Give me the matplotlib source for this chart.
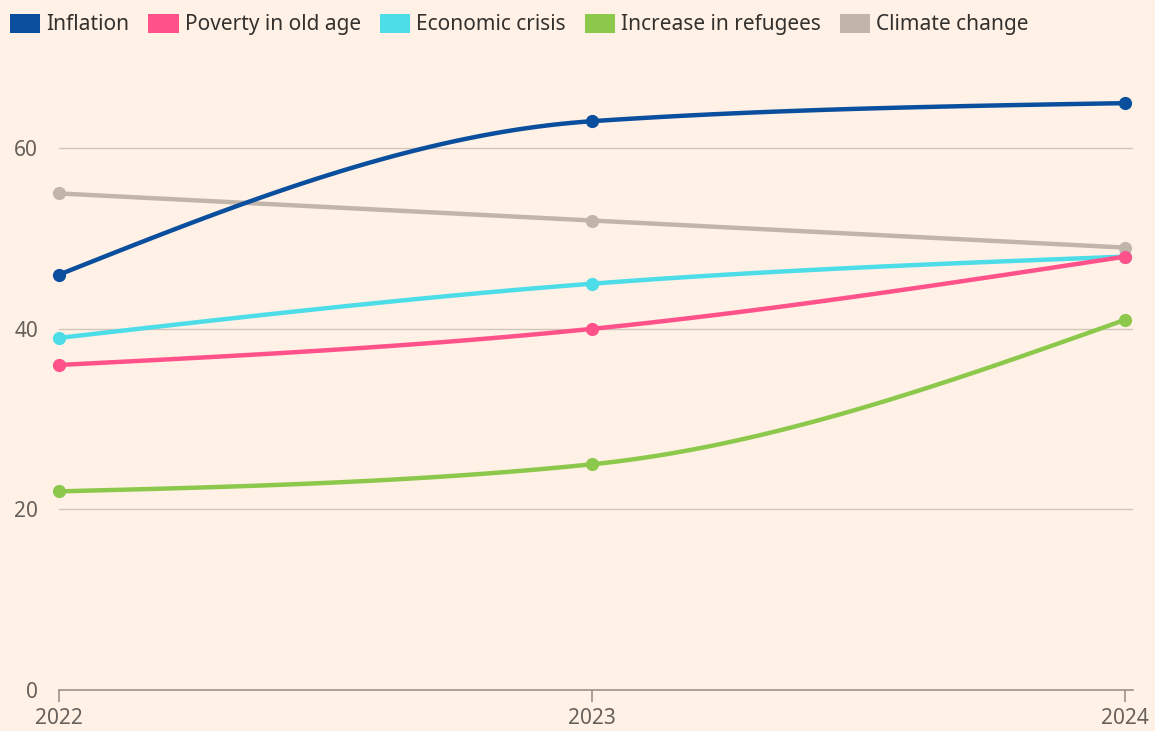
import numpy as np
import matplotlib
matplotlib.use("Agg")
import matplotlib.pyplot as plt
from matplotlib.patches import Patch

years = [2022, 2023, 2024]
series_names = ["Inflation", "Poverty in old age", "Economic crisis", "Increase in refugees", "Climate change"]
inflation = [46, 63, 65]
poverty = [36, 40, 48]
economic = [39, 45, 48]
refugees = [22, 25, 41]
climate = [55, 52, 49]
colors = ["#0a4f9e", "#ff528a", "#4cdde8", "#8cc84b", "#c1b4aa"]
yticks = [0, 20, 40, 60]

BG = "#fff1e5"


def monotone_x(x, y, n=60):
    x = np.asarray(x, float)
    y = np.asarray(y, float)
    m = len(x)
    h = np.diff(x)
    s = np.diff(y) / h
    t = np.zeros(m)
    for i in range(1, m - 1):
        h0, h1 = h[i - 1], h[i]
        s0, s1 = s[i - 1], s[i]
        p = (s0 * h1 + s1 * h0) / (h0 + h1)
        t[i] = (np.sign(s0) + np.sign(s1)) * min(abs(s0), abs(s1), 0.5 * abs(p))
    t[0] = (3 * s[0] - t[1]) / 2
    t[-1] = (3 * s[-1] - t[-2]) / 2
    xs, ys = [], []
    for i in range(m - 1):
        u = np.linspace(0, 1, n)
        hh = h[i]
        h00 = 2 * u**3 - 3 * u**2 + 1
        h10 = u**3 - 2 * u**2 + u
        h01 = -2 * u**3 + 3 * u**2
        h11 = u**3 - u**2
        xs.append(x[i] + u * hh)
        ys.append(h00 * y[i] + h10 * hh * t[i] + h01 * y[i + 1] + h11 * hh * t[i + 1])
    return np.concatenate(xs), np.concatenate(ys)


plt.rcParams['font.family'] = ['Noto Sans', 'DejaVu Sans']

fig = plt.figure(figsize=(11.55, 7.31), dpi=100, facecolor=BG)
ax = fig.add_axes([59 / 1155, 1 - 690 / 731, (1133 - 59) / 1155, (690 - 58) / 731])
ax.set_facecolor(BG)

all_series = [inflation, poverty, economic, refugees, climate]
order = [4, 2, 1, 3, 0]
for i in order:
    vals = all_series[i]
    xs, ys = monotone_x(years, vals)
    ax.plot(xs, ys, color=colors[i], lw=3.2, solid_capstyle='round', zorder=3 + (i == 0), clip_on=False)
    ax.plot(years, vals, 'o', color=colors[i], ms=9.5, zorder=3 + (i == 0), mec='none', clip_on=False)

ax.set_xlim(2022, 2024 + 8 / 533)
ax.set_ylim(0, 70)
for sp in ["top", "right", "left"]:
    ax.spines[sp].set_visible(False)
ax.spines["bottom"].set_color("#99918b")
ax.spines["bottom"].set_linewidth(1.2)
ax.spines["bottom"].set_bounds(2022, 2024 + 8 / 533)

ax.set_yticks(yticks)
ax.set_yticklabels([str(v) for v in yticks])
ax.tick_params(axis='y', length=0, pad=15, labelsize=15, labelcolor="#66605c")
for v in yticks[1:]:
    ax.axhline(v, color="#cfc5ba", lw=1.0, zorder=1)

ax.set_xticks(years)
ax.set_xticklabels([str(y) for y in years])
ax.tick_params(axis='x', length=8.5, width=1.2, color="#99918b", pad=4.5, labelsize=15, labelcolor="#66605c")

handles = [Patch(facecolor=c, edgecolor='none') for c in colors]
leg = fig.legend(handles, series_names, loc='upper left', bbox_to_anchor=(10 / 1155, 1 - 14 / 731),
                 ncol=5, frameon=False, fontsize=15, handlelength=1.45, handleheight=1.0,
                 handletextpad=0.3, columnspacing=0.9, borderaxespad=0, borderpad=0)
for t in leg.get_texts():
    t.set_color("#33302e")

fig.savefig("out.png", dpi=100, facecolor=BG)
